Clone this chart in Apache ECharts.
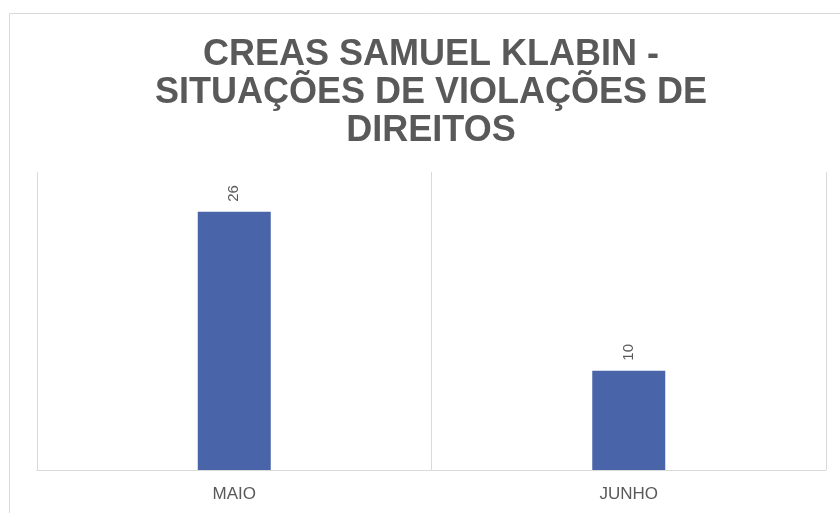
<!DOCTYPE html>
<html>
<head>
<meta charset="utf-8">
<script src="https://cdn.jsdelivr.net/npm/echarts@6/dist/echarts.min.js"></script>
<style>
  html, body { margin: 0; padding: 0; background: #fff; }
  #charts { width: 840px; height: 513px; }
</style>
</head>
<body>
<div id="charts"></div>
<script>
  // dados
  var titulo = 'CREAS SAMUEL KLABIN -\nSITUAÇÕES DE VIOLAÇÕES DE\nDIREITOS';
  var meses = ['MAIO', 'JUNHO'];
  var valores = [26, 10];

  var chart = echarts.init(document.getElementById('charts'));
  chart.setOption({
    animation: false,
    backgroundColor: '#fff',
    title: {
      text: titulo,
      left: 431,
      textAlign: 'center',
      top: 36,
      padding: 0,
      textStyle: {
        fontFamily: 'Liberation Sans',
        fontWeight: 'bold',
        fontSize: 36,
        lineHeight: 38,
        color: '#595959'
      }
    },
    graphic: [
      {
        type: 'rect',
        shape: {x: 9.5, y: 13.5, width: 900, height: 600},
        style: {fill: 'none', stroke: '#d9d9d9', lineWidth: 1},
        silent: true
      }
    ],
    grid: {left: 37, right: 14, top: 172, bottom: 43},
    xAxis: {
      type: 'category',
      data: meses,
      axisLine: {lineStyle: {color: '#d9d9d9', width: 1}},
      axisTick: {show: false},
      splitLine: {show: true, lineStyle: {color: '#d9d9d9', width: 1}},
      axisLabel: {
        color: '#595959',
        fontFamily: 'Liberation Sans',
        fontSize: 17,
        margin: 16
      }
    },
    yAxis: {
      type: 'value',
      min: 0,
      max: 30,
      show: false,
      splitLine: {show: false}
    },
    series: [
      {
        type: 'bar',
        data: valores,
        barWidth: 73,
        itemStyle: {color: '#4a64aa'},
        label: {
          show: true,
          position: 'top',
          rotate: 90,
          align: 'left',
          verticalAlign: 'middle',
          distance: 10,
          color: '#595959',
          fontFamily: 'Liberation Sans',
          fontSize: 15
        }
      }
    ]
  });
</script>
</body>
</html>
